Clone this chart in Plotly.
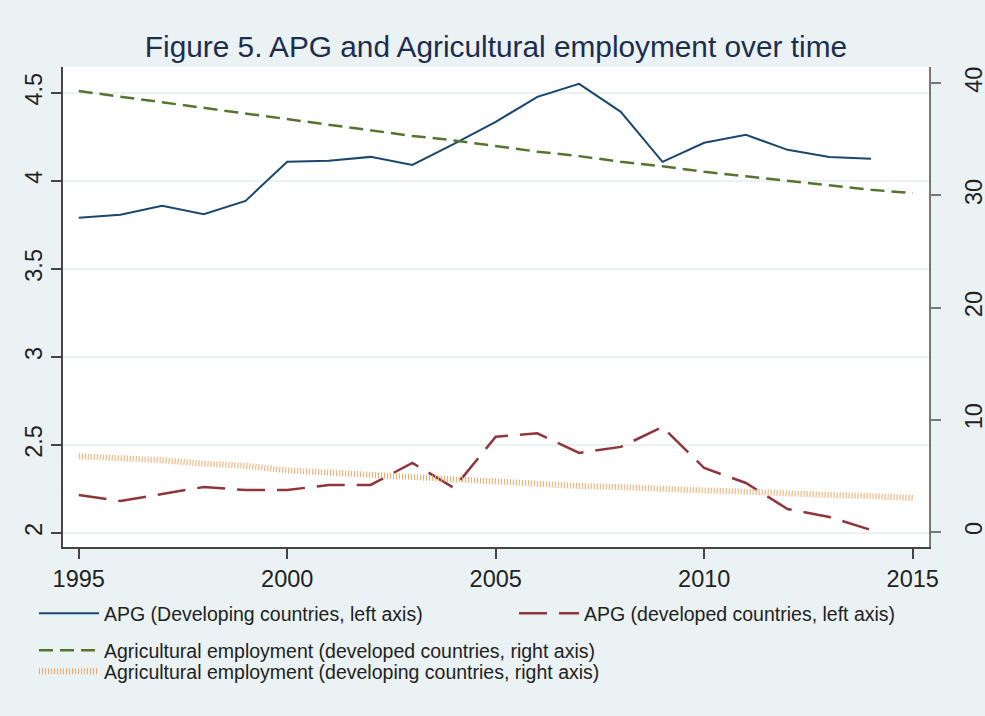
import plotly.graph_objects as go

years = list(range(1995, 2016))
years_apg = list(range(1995, 2015))

apg_developing = [3.79, 3.807, 3.858, 3.81, 3.886, 4.108, 4.114, 4.136, 4.09, 4.21,
                  4.335, 4.477, 4.551, 4.392, 4.108, 4.216, 4.261, 4.176, 4.136, 4.125]
apg_developed = [2.216, 2.182, 2.222, 2.261, 2.244, 2.244, 2.273, 2.273, 2.398, 2.256,
                 2.547, 2.566, 2.455, 2.489, 2.602, 2.369, 2.284, 2.136, 2.091, 2.017]
agri_developed = [39.3, 38.8, 38.3, 37.8, 37.3, 36.8, 36.3, 35.8, 35.3, 34.9, 34.4,
                  33.9, 33.5, 33.0, 32.6, 32.1, 31.7, 31.3, 30.9, 30.5, 30.2]
agri_developing = [6.75, 6.6, 6.4, 6.1, 5.9, 5.5, 5.3, 5.1, 4.9, 4.6, 4.4,
                   4.3, 4.1, 4.0, 3.8, 3.7, 3.6, 3.4, 3.3, 3.2, 3.05]

left_ticks = [2, 2.5, 3, 3.5, 4, 4.5]
left_ticklabels = ["2", "2.5", "3", "3.5", "4", "4.5"]
right_ticks = [0, 10, 20, 30, 40]
x_ticks = [1995, 2000, 2005, 2010, 2015]

BG = "#eaf2f3"
FONT = "Arial, Liberation Sans, sans-serif"

fig = go.Figure()

fig.add_trace(go.Scatter(
    x=years_apg, y=apg_developing, mode="lines",
    name="APG (Developing countries, left axis)", showlegend=True,
    line=dict(color="#1a476f", width=2), legend="legend"))
fig.add_trace(go.Scatter(
    x=years_apg, y=apg_developed, mode="lines",
    name="APG (developed countries, left axis)", showlegend=True,
    line=dict(color="#90353b", width=2.5, dash="28px,12px"), legend="legend4"))
fig.add_trace(go.Scatter(
    x=years, y=agri_developed, mode="lines", yaxis="y2",
    name="Agricultural employment (developed countries, right axis)", showlegend=True,
    line=dict(color="#55752f", width=2.5, dash="14px,7px"), legend="legend2"))
fig.add_trace(go.Scatter(
    x=years, y=agri_developing, mode="lines", yaxis="y2",
    name="Agricultural employment (developing countries, right axis)", showlegend=True,
    line=dict(color="#f2a766", width=6, dash="1px,2px"), legend="legend3"))

legend_common = dict(
    xref="container", yref="container", yanchor="top", xanchor="left",
    bgcolor="rgba(0,0,0,0)", font=dict(family=FONT, size=19.5, color="#222222"),
    itemwidth=60, orientation="h", tracegroupgap=0, visible=True,
)

fig.update_layout(
    width=985, height=716, showlegend=True,
    paper_bgcolor=BG, plot_bgcolor="white",
    margin=dict(l=63, r=56, t=67, b=169, autoexpand=False),
    font=dict(family=FONT, color="#222222"),
    title=dict(text="Figure 5. APG and Agricultural employment over time",
               x=0.5035, xref="container", y=1 - 47 / 716, yref="container",
               xanchor="center", yanchor="middle",
               font=dict(family=FONT, size=29.8, color="#1c2d4e")),
    xaxis=dict(range=[1994.623, 2015.391], tickvals=x_ticks, automargin=False,
               showgrid=False, zeroline=False, showline=True,
               linecolor="#444444", linewidth=1.5, ticks="outside",
               ticklen=10, tickwidth=1.5, tickcolor="#444444",
               tickfont=dict(size=23.5, color="#222222")),
    yaxis=dict(range=[1.9205, 4.6464], tickvals=left_ticks, ticktext=left_ticklabels,
               automargin=False,
               showgrid=True, gridcolor=BG, gridwidth=2, zeroline=False,
               showline=True, linecolor="#444444", linewidth=1.5,
               ticks="outside", ticklen=10, tickwidth=1.5, tickcolor="#444444",
               tickangle=-90, tickfont=dict(size=23.5, color="#222222")),
    yaxis2=dict(range=[-1.336, 41.443], tickvals=right_ticks, overlaying="y",
                side="right", showgrid=False, zeroline=False, automargin=False,
                showline=True, linecolor="#777777", linewidth=1.5,
                ticks="outside", ticklen=10, tickwidth=1.5, tickcolor="#777777",
                ticklabelstandoff=13,
                tickangle=-90, tickfont=dict(size=23.5, color="#222222")),
    legend=dict(x=34 / 985, y=1 - 594 / 716, **legend_common),
    legend4=dict(x=514 / 985, y=1 - 594 / 716, **legend_common),
    legend2=dict(x=34 / 985, y=1 - 631 / 716, **legend_common),
    legend3=dict(x=34 / 985, y=1 - 652 / 716, **legend_common),
)

fig.write_html("out.html")
